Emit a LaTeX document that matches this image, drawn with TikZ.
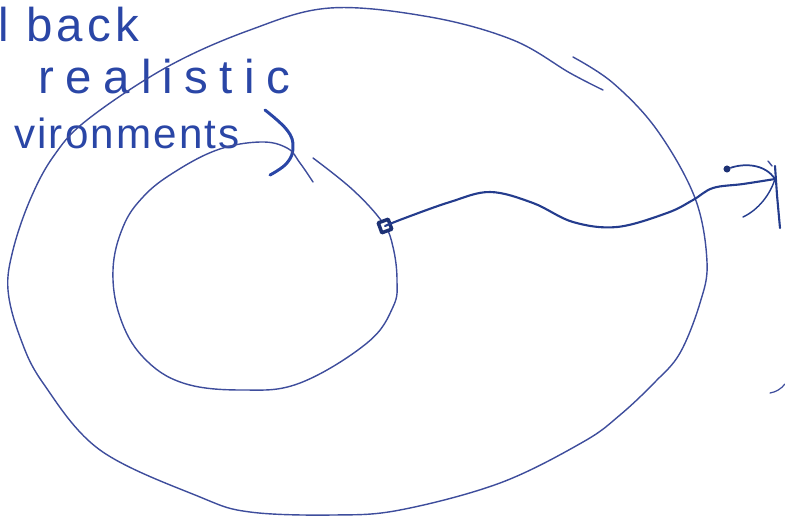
\documentclass[tikz,border=0pt]{standalone}
\usepackage{fontspec}
\usetikzlibrary{positioning}
\newfontfamily\handfont{Liberation Sans}
\definecolor{ink}{HTML}{3E4D9C}
\definecolor{pen}{HTML}{2A46A6}

\begin{document}
\begin{tikzpicture}[
  x=0.02cm, y=-0.02cm,
  line cap=round, line join=round,
  sketch/.style={draw=ink, line width=0.8pt},
  wire/.style={draw=pen!85!black, line width=1.2pt},
  hand/.style={text=pen, anchor=base west, inner sep=0pt, font=\handfont\fontsize{27}{30}\selectfont},
  port/.style={draw=pen!70!black, fill=white, line width=2pt, minimum size=6pt, inner sep=0pt, rotate=20},
  tipdot/.style={circle, fill=pen!70!black, minimum size=4pt, inner sep=0pt}
]
\useasboundingbox (0,0) rectangle (785,518);

% labels
\node[hand] (line1) at (-2,41) {\addfontfeature{LetterSpace=9}l back};
\node[hand] (line2) at (38,93) {\addfontfeature{LetterSpace=24}realistic};
\node[hand, font=\handfont\fontsize{24}{26}\selectfont] (line3) at (14,148)
  {\addfontfeature{LetterSpace=5}vironments};
\draw[pen, line width=1.7pt] plot[smooth, tension=0.7] coordinates
  {(265,110) (287,130) (293,147) (287,163) (270,175)};

% outer region
\draw[sketch] plot[smooth, tension=0.6] coordinates
  {(573,57) (613,83) (657,130) (695,198) (707,262) (700,303) (680,353)
   (655,382) (620,415) (583,442) (500,483) (400,510) (333,515) (250,512)
   (200,497) (100,450) (43,383) (20,337) (8,290) (13,250) (30,200)
   (53,157) (87,120) (167,67) (250,30) (330,8) (430,17) (513,40) (570,73) (603,90)};

% inner region
\draw[sketch] plot[smooth, tension=0.65] coordinates
  {(313,158) (353,190) (383,223) (393,247) (397,280) (393,307) (367,343)
   (300,383) (243,390) (183,383) (143,357) (120,317) (113,270) (123,227)
   (143,197) (173,173) (217,150) (260,142) (287,148) (300,163) (313,182)};

% escape path
\node[port] (hub) at (385,226) {};
\coordinate (tip) at (775,179);
\node[tipdot] (dot) at (727,169) {};
\draw[wire] plot[smooth, tension=0.6] coordinates
  {(hub.center) (405,218) (450,202) (490,192) (533,203) (573,222)
   (617,227) (667,213) (693,200) (713,188) (743,184) (tip)};
\draw[wire, line width=1pt] (dot) .. controls (745,163) and (765,164) .. (tip);
\draw[wire, line width=0.8pt] (743,217) .. controls (758,210) and (770,195) .. (tip);
\draw[wire, line width=1.2pt] (775,166) -- (777,195) -- (780,228);
\draw[ink, line width=0.8pt] (768,161) -- (772,166);

% stray mark
\draw[ink, line width=0.7pt] (770,393) .. controls (776,392) and (781,389) .. (785,384);

\end{tikzpicture}
\end{document}
